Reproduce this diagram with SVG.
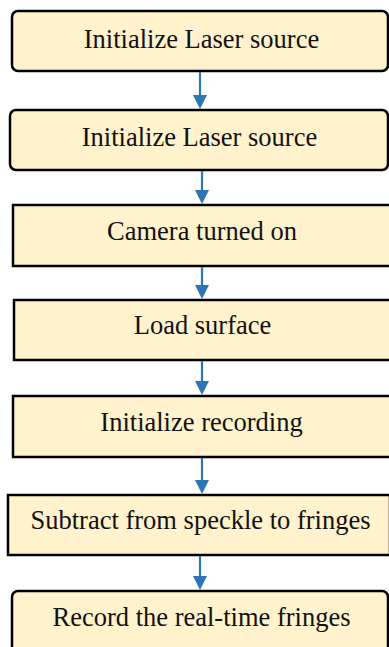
<svg xmlns="http://www.w3.org/2000/svg" width="389" height="647" viewBox="0 0 389 647">
<style>
.box{fill:#FFF2CC;stroke:#000;stroke-width:2.5}
.t{font-family:'Liberation Serif','Times New Roman',serif;font-size:26.5px;fill:#111;text-anchor:middle}
.c{stroke:#2E75B6;stroke-width:2.2;fill:none}
.h{fill:#2E75B6}
</style>
<rect width="389" height="647" fill="#fff"/>
<g id="n1"><rect class="box" x="12" y="11" width="376" height="60" rx="6"/><text class="t" x="201.5" y="48">Initialize Laser source</text></g>
<g id="n2"><rect class="box" x="10" y="110" width="378" height="60" rx="6"/><text class="t" x="199.5" y="146">Initialize Laser source</text></g>
<g id="n3"><rect class="box" x="13" y="205" width="380" height="61"/><text class="t" x="202" y="240">Camera turned on</text></g>
<g id="n4"><rect class="box" x="14" y="300" width="380" height="60"/><text class="t" x="202.5" y="334">Load surface</text></g>
<g id="n5"><rect class="box" x="13" y="396" width="380" height="61"/><text class="t" x="201.5" y="431">Initialize recording</text></g>
<g id="n6"><rect class="box" x="8" y="495" width="382" height="60"/><text class="t" x="200.5" y="529">Subtract from speckle to fringes</text></g>
<g id="n7"><rect class="box" x="12" y="591" width="376" height="66" rx="6"/><text class="t" x="201.5" y="626">Record the real-time fringes</text></g>
<g id="connectors">
<g class="c"><line x1="200" y1="72" x2="200" y2="96"/><line x1="202" y1="171" x2="202" y2="191"/><line x1="202" y1="267" x2="202" y2="286"/><line x1="202" y1="361" x2="202" y2="382"/><line x1="202" y1="458" x2="202" y2="481"/><line x1="200" y1="556" x2="200" y2="577"/></g>
<polygon class="h" points="193,95 207,95 200,109"/>
<polygon class="h" points="195,190 209,190 202,204"/>
<polygon class="h" points="195,285 209,285 202,299"/>
<polygon class="h" points="195,381 209,381 202,395"/>
<polygon class="h" points="195,480 209,480 202,494"/>
<polygon class="h" points="193,576 207,576 200,590"/>
</g>
</svg>
